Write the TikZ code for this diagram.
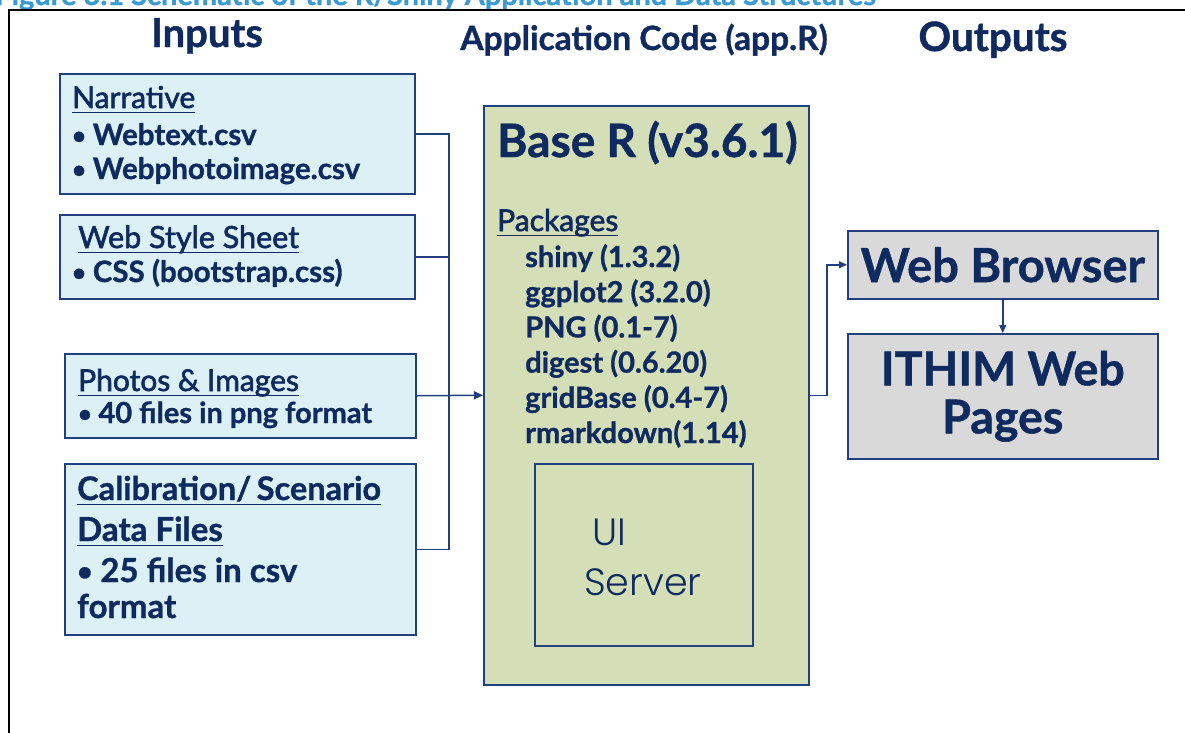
\documentclass[tikz,border=0pt]{standalone}
\usepackage{fontspec}
\usepackage{graphicx}
\setmainfont{Lato}[BoldFeatures={FakeBold=1}]
\newfontface\medfont{Lato}[FakeBold=2]
\newfontfamily\uifont{Poppins}[UprightFont=* Light]
\usetikzlibrary{arrows.meta,positioning}
\definecolor{navy}{HTML}{0F2A5E}
\definecolor{boxline}{HTML}{23407E}
\definecolor{titleblue}{HTML}{3A9AD2}
\definecolor{inputfill}{HTML}{DCF1F5}
\definecolor{codefill}{HTML}{D4DEB7}
\definecolor{outfill}{HTML}{D9D9D9}
\newcommand{\fsz}[1]{\fontsize{#1}{#1}\selectfont}
\newcommand{\ulined}[1]{\setbox0=\hbox{#1}\rlap{\rule[-5pt]{\wd0}{1.4pt}}\box0}
\newcommand{\bul}{\makebox[0.7em][l]{\raisebox{0.04em}{\scalebox{0.8}{\textbullet}}}}

\begin{document}
\begin{tikzpicture}[x=1pt,y=-1pt,
    inbox/.style={draw=boxline, line width=1.5pt, fill=inputfill, anchor=north west, inner sep=0pt},
    codebox/.style={draw=boxline, line width=1.5pt, fill=codefill, anchor=north west, inner sep=0pt},
    outbox/.style={draw=boxline, line width=1.5pt, fill=outfill, anchor=north west, inner sep=0pt,
        text=navy, font=\bfseries\fsz{47}, align=center},
    txt/.style={anchor=base west, inner sep=0pt, text=navy},
    head/.style={anchor=base, inner sep=0pt, text=navy, font=\bfseries\fsz{40}},
    conn/.style={draw=boxline, line width=1.5pt}]
    \useasboundingbox (0,0) rectangle (1185,732);
    % caption and frame
    \node[anchor=base east, inner sep=0pt, text=titleblue, font=\bfseries\fsz{29}] (caption) at (876,5)
        {Figure 3.1 Schematic of the R/Shiny Application and Data Structures};
    \draw[black, line width=2pt] (9,740) -- (9,10) -- (1190,10);
    % column headings
    \node[head] (hin) at (207,47) {Inputs};
    \node[head, font=\bfseries\fsz{33.5}] (hcode) at (644,50) {Application Code (app.R)};
    \node[head, font=\bfseries\fsz{40.5}] (hout) at (993,51) {Outputs};

    % input boxes
    \node[inbox, minimum width=355pt, minimum height=120pt] (narr) at (59,73) {};
    \node[txt, font=\medfont\fsz{30}] (narrA) at (72,108) {\ulined{Narrative}};
    \node[txt, font=\bfseries\fsz{29.5}] (narrB) at (72,145) {\bul Webtext.csv};
    \node[txt, font=\bfseries\fsz{29.5}] (narrC) at (72,179) {\bul Webphotoimage.csv};

    \node[inbox, minimum width=355pt, minimum height=84pt] (style) at (59,214) {};
    \node[txt, font=\medfont\fsz{30.5}] (styleA) at (78,248) {\ulined{Web Style Sheet}};
    \node[txt, font=\bfseries\fsz{29.5}] (styleB) at (72,282) {\bul CSS (bootstrap.css)};

    \node[inbox, minimum width=351pt, minimum height=84pt] (photo) at (64,353) {};
    \node[txt, font=\medfont\fsz{30}] (photoA) at (78,391) {\ulined{Photos \& Images}};
    \node[txt, font=\bfseries\fsz{29}] (photoB) at (78,423) {\bul 40 files in png format};

    \node[inbox, minimum width=351pt, minimum height=171pt] (calib) at (64,463) {};
    \node[txt, font=\bfseries\fsz{32.5}] (calibA) at (77,500) {\ulined{Calibration/\,Scenario}};
    \node[txt, font=\bfseries\fsz{33}] (calibB) at (77,541) {\ulined{Data Files}};
    \node[txt, font=\bfseries\fsz{33}] (calibC) at (77,582) {\bul 25 files in csv};
    \node[txt, font=\bfseries\fsz{33}] (calibD) at (77,618) {format};

    % application code
    \node[codebox, minimum width=325pt, minimum height=579pt] (baser) at (483,105) {};
    \node[txt, font=\bfseries\fsz{46}] (basetitle) at (497,157) {Base R (v3.6.1)};
    \node[txt, font=\medfont\fsz{30}] (pkghead) at (497,231) {\ulined{Packages}};
    \foreach \pkg [count=\i from 0] in {shiny (1.3.2), ggplot2 (3.2.0), PNG (0.1-7),
        digest (0.6.20), gridBase (0.4-7), rmarkdown(1.14)}
        \node[txt, font=\bfseries\fsz{29}] (pkg\i) at (525,267+35.2*\i) {\pkg};
    \node[draw=boxline, line width=1.5pt, anchor=north west, inner sep=0pt,
        minimum width=218pt, minimum height=182pt] (uibox) at (534,463) {};
    \node[txt, font=\uifont\fsz{38}] (ui) at (592,545) {UI};
    \node[txt, font=\uifont\fsz{38}] (server) at (584,595) {Server};

    % outputs
    \node[outbox, minimum width=310pt, minimum height=68pt] (wb) at (847,230) {Web Browser};
    \node[outbox, minimum width=310pt, minimum height=125pt, font=\bfseries\fontsize{46.5}{48}\selectfont]
        (ithim) at (847,333) {ITHIM Web\\Pages};

    % connectors
    \coordinate (bus) at (449,0);
    \coordinate (elbow) at (827,0);
    \draw[conn] (narr.east) -- (narr.east -| bus) -- (calib.east -| bus) -- (calib.east);
    \draw[conn] (style.east) -- (style.east -| bus);
    \draw[conn, -{Triangle[length=9pt,width=8pt]}] (photo.east) -- (baser.west);
    \draw[conn, -{Triangle[length=8pt,width=7pt]}] (baser.east) -- (baser.east -| elbow) |- (wb.west);
    \draw[conn, -{Triangle[length=8pt,width=7pt]}] (wb.south) -- (ithim.north);
\end{tikzpicture}
\end{document}
